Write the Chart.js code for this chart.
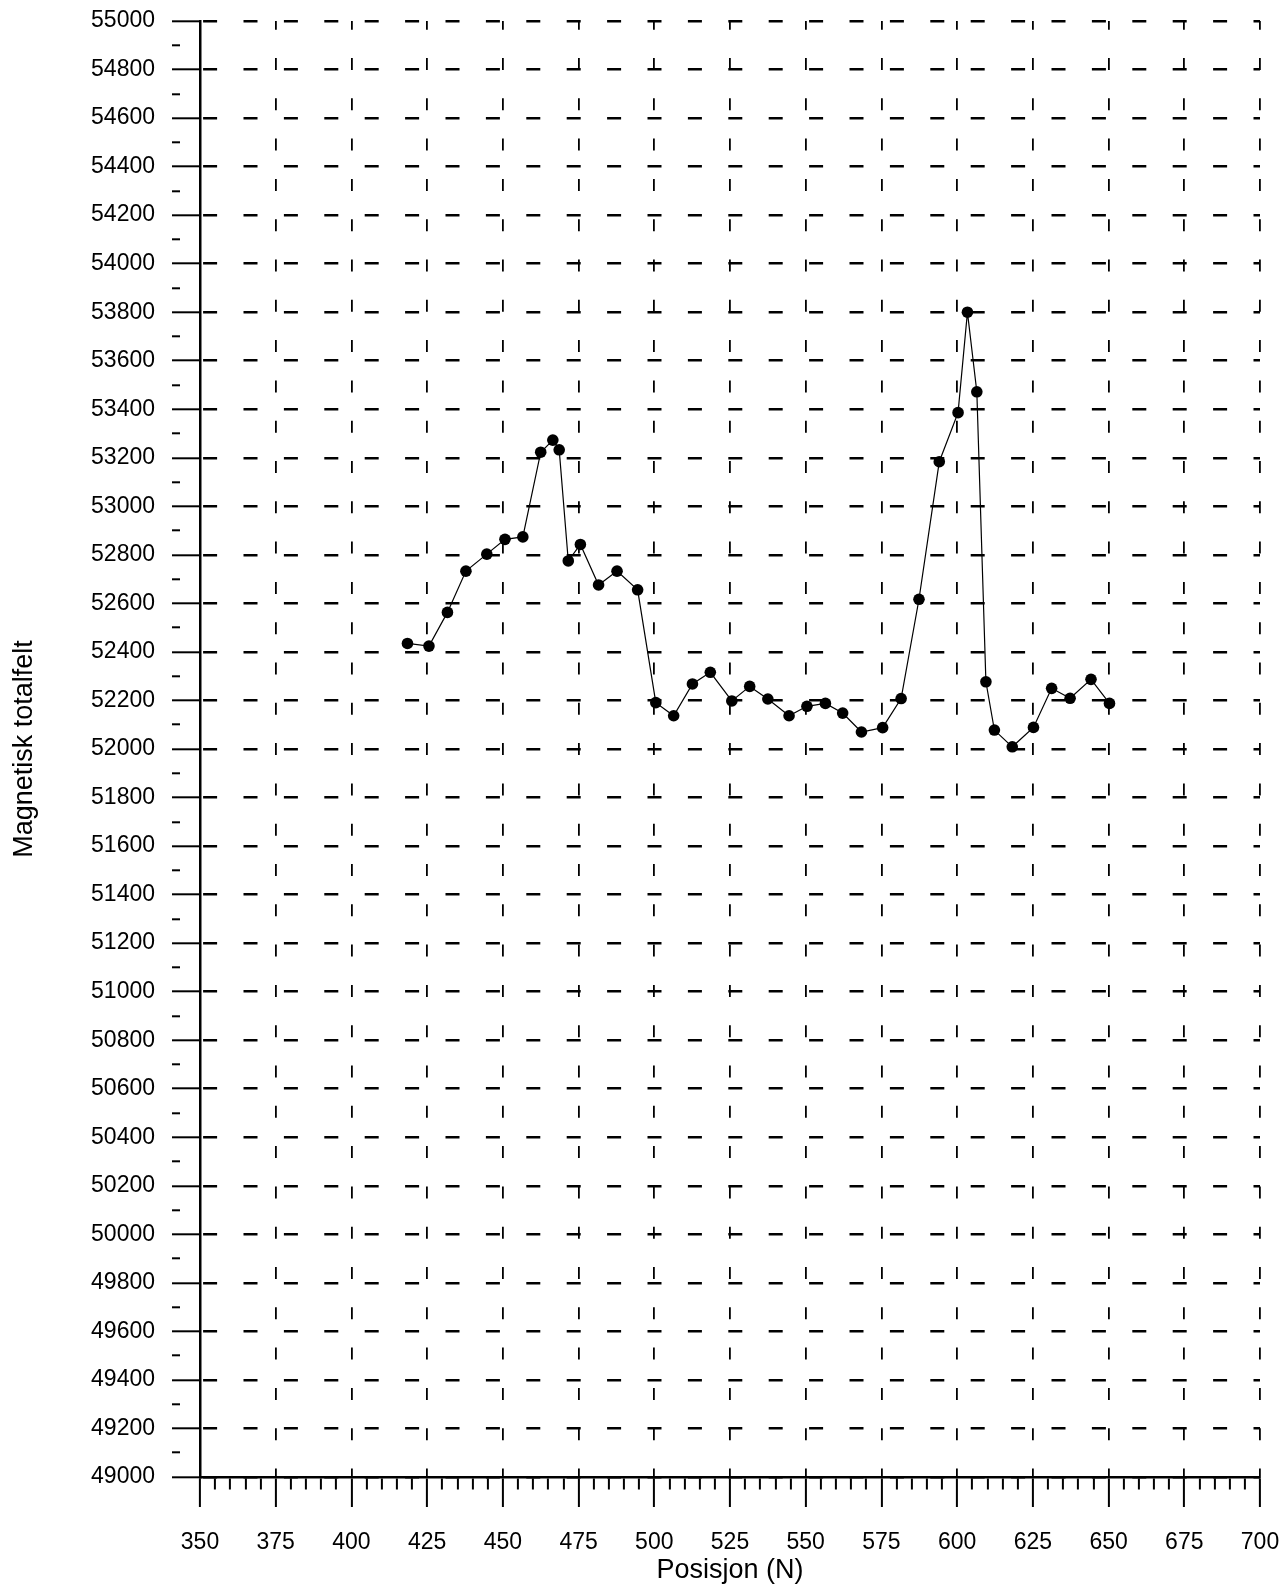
<!DOCTYPE html>
<html>
<head>
<meta charset="utf-8">
<script src="https://cdn.jsdelivr.net/npm/chart.js@4/dist/chart.umd.min.js"></script>
<style>
  html, body { margin: 0; padding: 0; background: #ffffff; }
  #wrap { width: 1284px; height: 1587px; position: relative; }
</style>
</head>
<body>
<div id="wrap"><canvas id="c"></canvas></div>
<script>
// ---- Data ----
const positions = [418.5, 425.6, 431.7, 437.8, 444.7, 450.7, 456.6, 462.5, 466.5, 468.6,
                   471.6, 475.6, 481.6, 487.7, 494.5, 500.5, 506.4, 512.6, 518.5, 525.6,
                   531.5, 537.5, 544.5, 550.4, 556.5, 562.2, 568.4, 575.4, 581.5, 587.4,
                   594.1, 600.3, 603.4, 606.5, 609.5, 612.3, 618.2, 625.2, 631.2, 637.3,
                   644.2, 650.3];
const totalField = [52435, 52424, 52563, 52733, 52803, 52864, 52874, 53223, 53273, 53233,
                    52775, 52843, 52676, 52733, 52656, 52191, 52137, 52268, 52316, 52198,
                    52258, 52206, 52137, 52176, 52188, 52148, 52070, 52088, 52208, 52617,
                    53184, 53386, 53800, 53472, 52277, 52078, 52009, 52089, 52250, 52209,
                    52287, 52188];

// axis ranges / tick steps
const xRange = [350, 700];
const xMajorStep = 25;
const xMinorStep = 5;
const yRange = [49000, 55000];
const yMajorStep = 200;
const yMinorStep = 100;

const xTitle = 'Posisjon (N)';
const yTitle = 'Magnetisk totalfelt';

const points = positions.map((p, i) => ({ x: p, y: totalField[i] }));

const isMajor = (v, step) => Math.abs(Math.round(v / step) * step - v) < 1e-6;
const FONT = '"Liberation Sans", Arial, Helvetica, sans-serif';

new Chart(document.getElementById('c'), {
  type: 'line',
  data: {
    datasets: [{
      data: points,
      borderColor: '#000',
      borderWidth: 1.2,
      pointRadius: 5.8,
      pointHoverRadius: 5.8,
      pointBackgroundColor: '#000',
      pointBorderColor: '#000',
      pointBorderWidth: 0,
      tension: 0,
      fill: false
    }]
  },
  options: {
    responsive: true,
    maintainAspectRatio: false,
    animation: false,
    layout: { padding: { left: 0, top: 21, right: 24, bottom: 0 } },
    plugins: { legend: { display: false }, tooltip: { enabled: false } },
    scales: {
      x: {
        type: 'linear',
        position: 'bottom',
        min: xRange[0],
        max: xRange[1],
        afterFit: (s) => { s.height = 110; s.paddingLeft = 0; s.paddingRight = 0; },
        ticks: {
          stepSize: xMinorStep,
          autoSkip: false,
          maxRotation: 0,
          minRotation: 0,
          padding: 22,
          color: '#000',
          font: { family: FONT, size: 23 },
          callback: (v) => isMajor(v, xMajorStep) ? String(v) : ''
        },
        grid: {
          color: (c) => (c.tick && isMajor(c.tick.value, xMajorStep)) ? '#000' : 'rgba(0,0,0,0)',
          lineWidth: 1.8,
          drawTicks: true,
          tickLength: 30,
          tickWidth: 2,
          tickColor: '#000',
          tickBorderDash: (c) => (c.tick && isMajor(c.tick.value, xMajorStep)) ? [] : [11, 100]
        },
        border: { display: true, color: '#000', width: 2.5, dash: [12, 28.3], dashOffset: 3.3 },
        title: {
          display: true,
          text: xTitle,
          color: '#000',
          font: { family: FONT, size: 27 },
          padding: { top: 0, bottom: 0 }
        }
      },
      y: {
        type: 'linear',
        position: 'left',
        min: yRange[0],
        max: yRange[1],
        afterFit: (s) => { s.width = 200; s.paddingTop = 0; s.paddingBottom = 0; },
        ticks: {
          stepSize: yMinorStep,
          autoSkip: false,
          padding: 17,
          color: '#000',
          font: { family: FONT, size: 23 },
          callback: (v) => isMajor(v, yMajorStep) ? String(v) : ''
        },
        grid: {
          color: (c) => (c.tick && isMajor(c.tick.value, yMajorStep)) ? '#000' : 'rgba(0,0,0,0)',
          lineWidth: 2.6,
          drawTicks: true,
          tickLength: 28,
          tickWidth: 2,
          tickColor: '#000',
          tickBorderDash: (c) => (c.tick && isMajor(c.tick.value, yMajorStep)) ? [] : [8, 100]
        },
        border: { display: true, color: '#000', width: 2.5, dash: [14, 26.4], dashOffset: 38.8 },
        title: {
          display: true,
          text: yTitle,
          color: '#000',
          font: { family: FONT, size: 27 },
          padding: { top: 8, bottom: 0 }
        }
      }
    }
  }
});
</script>
</body>
</html>
